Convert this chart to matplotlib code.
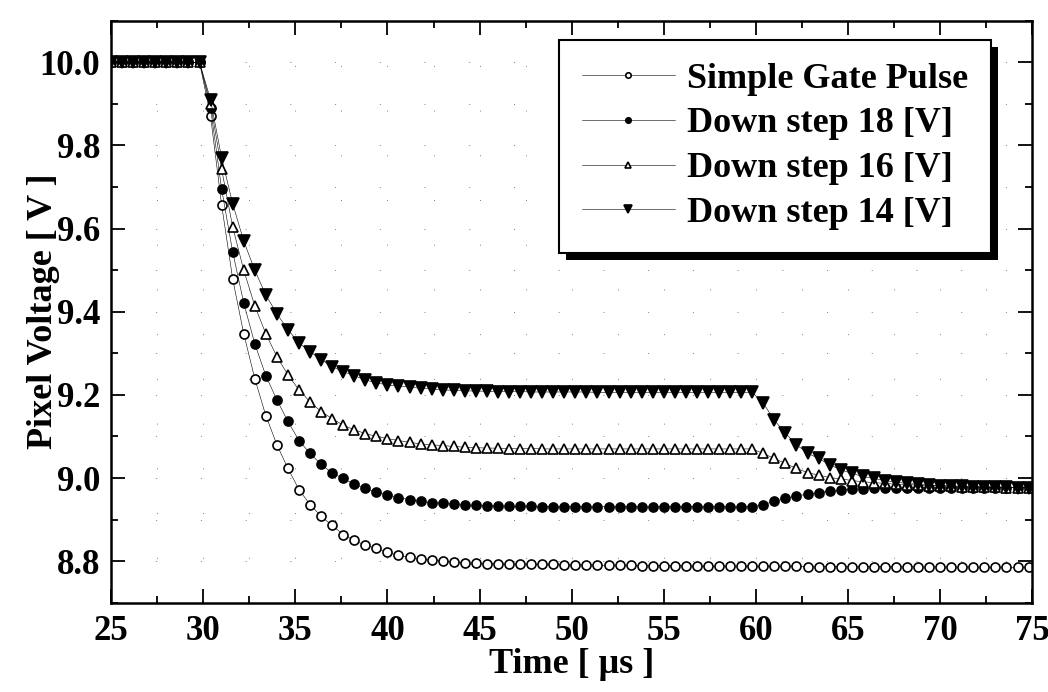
import matplotlib
matplotlib.use('Agg')
import matplotlib.pyplot as plt
from matplotlib.patches import Rectangle
from matplotlib.ticker import MultipleLocator
import numpy as np

plt.rcParams['font.family'] = ['Liberation Serif', 'DejaVu Serif']
plt.rcParams['font.weight'] = 'bold'
plt.rcParams['axes.labelweight'] = 'bold'

# sampling grid (0.6 us)
time_us = np.round(np.arange(84) * 0.6 + 25.0, 1)

simple_gate = [10.0] * 9 + [
    9.87, 9.657, 9.479, 9.347, 9.239, 9.150, 9.080, 9.023, 8.972, 8.936,
    8.908, 8.886, 8.864, 8.850, 8.838, 8.831, 8.821, 8.814, 8.809, 8.806,
    8.803, 8.800, 8.798, 8.796,
    8.795, 8.794, 8.794, 8.793, 8.793, 8.792, 8.792, 8.792, 8.791, 8.791,
    8.791, 8.790, 8.790, 8.790, 8.790, 8.789, 8.789, 8.789, 8.789, 8.789,
] + [8.788] * 10 + [8.787] * 10 + [8.786] * 6 + [8.785] * 5

down_18 = [10.0] * 9 + [
    9.89, 9.695, 9.544, 9.421, 9.323, 9.246, 9.188, 9.136, 9.090, 9.059,
    9.033, 9.012, 8.999, 8.985, 8.975, 8.966, 8.960, 8.953, 8.948, 8.944,
    8.941, 8.939, 8.937, 8.935,
    8.934, 8.933, 8.933, 8.932, 8.932, 8.932,
] + [8.931] * 20 + [
    8.936, 8.944, 8.951, 8.957, 8.961, 8.965, 8.969, 8.971, 8.973, 8.974,
    8.975, 8.976, 8.976, 8.976,
] + [8.977] * 11

down_16 = [10.0] * 9 + [
    9.90, 9.743, 9.604, 9.500, 9.414, 9.347, 9.292, 9.248, 9.212, 9.183,
    9.160, 9.143, 9.127, 9.116, 9.107, 9.100, 9.095, 9.090, 9.086, 9.082,
    9.080, 9.078, 9.076, 9.074,
    9.073, 9.072, 9.072, 9.071, 9.071, 9.071,
] + [9.070] * 20 + [
    9.059, 9.047, 9.035, 9.023, 9.013, 9.007, 9.001, 8.998, 8.994, 8.991,
    8.989, 8.987, 8.985, 8.984, 8.983, 8.982, 8.981, 8.980, 8.979, 8.979,
    8.978, 8.978, 8.977, 8.977, 8.977,
]

down_14 = [10.0] * 9 + [
    9.91, 9.77, 9.66, 9.57, 9.50, 9.44, 9.395, 9.357, 9.325, 9.304,
    9.285, 9.268, 9.256, 9.246, 9.236, 9.229, 9.224, 9.221, 9.219, 9.216,
    9.214, 9.212, 9.211, 9.210,
    9.209, 9.209, 9.208, 9.208, 9.208, 9.207, 9.207, 9.207, 9.207, 9.207,
    9.207,
] + [9.206] * 15 + [
    9.180, 9.139, 9.108, 9.080, 9.060, 9.047, 9.032, 9.020, 9.011, 9.004,
    8.999, 8.994, 8.990, 8.987, 8.985, 8.983, 8.982, 8.981, 8.980, 8.979,
    8.979, 8.978, 8.978, 8.977, 8.977,
]

labels = ['Simple Gate Pulse', 'Down step 18 [V]', 'Down step 16 [V]', 'Down step 14 [V]']

fig = plt.figure(figsize=(10.48, 6.92), dpi=100)
ax = fig.add_axes([0.106, 0.129, 0.879, 0.841])

common = dict(color='black', lw=0.4, mew=1.2)
ax.plot(time_us, simple_gate, marker='o', ms=6.5, mfc='white', label=labels[0], **common)
ax.plot(time_us, down_18, marker='o', ms=6.5, mfc='black', label=labels[1], **common)
ax.plot(time_us, down_16, marker='^', ms=7.5, mfc='white', label=labels[2], **common)
ax.plot(time_us, down_14, marker='v', ms=8.5, mfc='black', label=labels[3], **common)

ax.set_xlim(25, 75)
ax.set_ylim(8.7, 10.1)
ax.xaxis.set_major_locator(MultipleLocator(5))
ax.xaxis.set_minor_locator(MultipleLocator(2.5))
ax.yaxis.set_major_locator(MultipleLocator(0.2))
ax.yaxis.set_minor_locator(MultipleLocator(0.1))
ax.yaxis.set_major_formatter(plt.FormatStrFormatter('%.1f'))

ax.tick_params(which='both', direction='in', top=True, right=True, width=1.3, labelsize=25)
ax.tick_params(which='major', length=10)
ax.tick_params(which='minor', length=5)
ax.tick_params(axis='x', pad=9)
ax.tick_params(axis='y', pad=8)
for s in ax.spines.values():
    s.set_linewidth(1.8)

ax.grid(True, which='both', color='0.5', lw=0.7, linestyle=(0, (1, 45)))

ax.set_xlabel('Time [ μs ]', fontsize=26, labelpad=0)
ax.set_ylabel('Pixel Voltage [ V ]', fontsize=26)
ax.yaxis.set_label_coords(-0.055, 0.5)

leg = ax.legend(loc='upper right', bbox_to_anchor=(0.955, 0.967), fontsize=26,
                handlelength=2.6, markerscale=0.6, labelspacing=0.32,
                borderpad=0.62, handletextpad=0.33, borderaxespad=0,
                fancybox=False, framealpha=1, edgecolor='black')
leg.get_frame().set_linewidth(1.5)
leg.set_zorder(6)

# heavy drop shadow behind the legend box
fig.canvas.draw()
bb = leg.get_window_extent().transformed(fig.transFigure.inverted())
dx, dy = 7 / 1048, 7 / 692
shadow = Rectangle((bb.x0 + dx, bb.y0 - dy), bb.width, bb.height,
                   transform=fig.transFigure, facecolor='black', edgecolor='none', zorder=5)
ax.add_patch(shadow)

fig.savefig('out.png', dpi=100)
